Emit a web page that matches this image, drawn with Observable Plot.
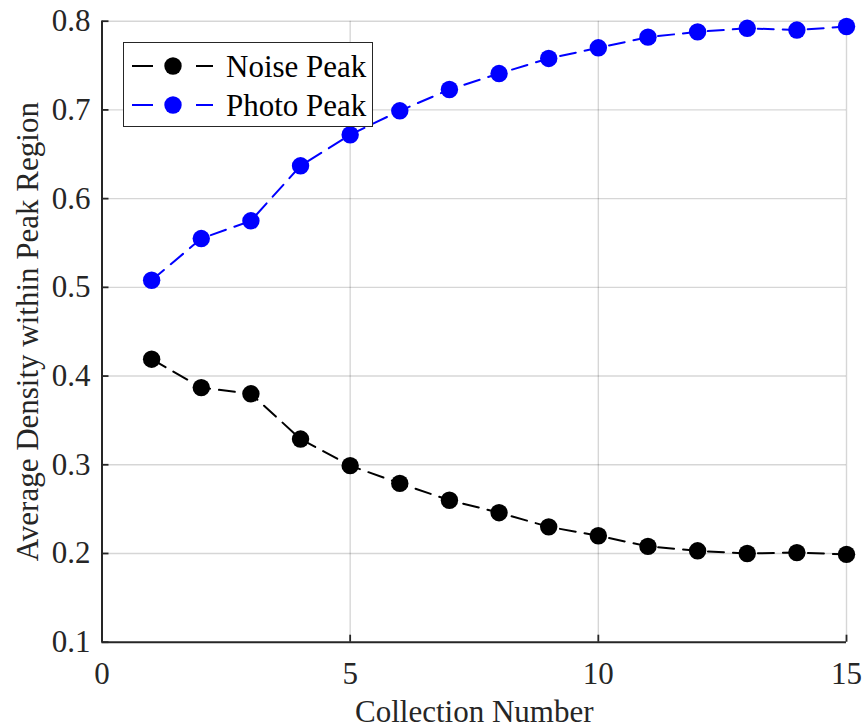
<!DOCTYPE html>
<html>
<head>
<meta charset="utf-8">
<script src="https://cdn.jsdelivr.net/npm/d3@7"></script>
<script src="https://cdn.jsdelivr.net/npm/@observablehq/plot@0.6"></script>
<style>
  html, body { margin: 0; padding: 0; background: #fff; }
  #wrap { position: relative; width: 862px; height: 728px; font-family: "Liberation Serif", "Times New Roman", serif; }
  #legend { position: absolute; left: 123px; top: 42px; width: 248px; height: 83px; background: #fff; border: 1.5px solid #262626; box-sizing: content-box; }
  #legend .row { position: absolute; left: 0; height: 40px; display: flex; align-items: center; }
  #legend .row span { font-size: 31px; color: #000; margin-left: 5px; line-height: 1; }
</style>
</head>
<body>
<div id="wrap"></div>
<script>
const collection = [1,2,3,4,5,6,7,8,9,10,11,12,13,14,15];
const noisePeak = [0.419,0.387,0.380,0.329,0.299,0.279,0.260,0.246,0.230,0.220,0.208,0.203,0.200,0.201,0.199];
const photoPeak = [0.508,0.555,0.575,0.637,0.672,0.699,0.723,0.741,0.758,0.770,0.782,0.788,0.792,0.790,0.794];
const seriesNames = ["Noise Peak", "Photo Peak"];
const seriesColors = ["#000000", "#0000ff"];
const xTicks = [0,5,10,15];
const yTicks = [0.1,0.2,0.3,0.4,0.5,0.6,0.7,0.8];

const rows = [];
collection.forEach((c,i) => {
  rows.push({series: seriesNames[0], x: c, y: noisePeak[i]});
  rows.push({series: seriesNames[1], x: c, y: photoPeak[i]});
});

const axisColor = "#262626";
const dash = "16,9";

const chart = Plot.plot({
  width: 862,
  height: 728,
  marginLeft: 101.5,
  marginRight: 16,
  marginTop: 20.7,
  marginBottom: 86.3,
  style: {fontFamily: "'Liberation Serif', 'Times New Roman', serif", fontSize: "31px", color: axisColor, background: "#fff", overflow: "visible"},
  x: {domain: [0, 15]},
  y: {domain: [0.1, 0.8]},
  color: {domain: seriesNames, range: seriesColors},
  marks: [
    Plot.gridX(xTicks.filter(d => d > 0), {stroke: "#000", strokeOpacity: 0.16, strokeWidth: 1.4}),
    Plot.gridY(yTicks.filter(d => d > 0.1), {stroke: "#000", strokeOpacity: 0.16, strokeWidth: 1.4}),
    Plot.axisX(xTicks, {tickSize: -7, tickPadding: 26.3, stroke: axisColor, strokeWidth: 1.8, fill: axisColor,
      label: "Collection Number", labelAnchor: "center", labelArrow: "none", labelOffset: 80}),
    Plot.axisY(yTicks, {tickSize: -7, tickPadding: 18.5, stroke: axisColor, strokeWidth: 1.8, fill: axisColor,
      tickFormat: d3.format(".1f"),
      label: "Average Density within Peak Region", labelAnchor: "center", labelArrow: "none", labelOffset: 86.5}),
    Plot.ruleX([0], {stroke: axisColor, strokeWidth: 2}),
    Plot.ruleY([0.1], {stroke: axisColor, strokeWidth: 2}),
    Plot.line(rows, {x: "x", y: "y", z: "series", stroke: "series", strokeWidth: 2, strokeDasharray: dash}),
    Plot.dot(rows, {x: "x", y: "y", fill: "series", r: 8.7, stroke: null})
  ]
});

const wrap = document.getElementById("wrap");
wrap.appendChild(chart);

// Legend (HTML overlay)
const legend = document.createElement("div");
legend.id = "legend";
seriesNames.forEach((name, i) => {
  const row = document.createElement("div");
  row.className = "row";
  row.style.top = (3 + i * 39) + "px";
  const col = seriesColors[i];
  row.innerHTML = `<svg width="90" height="40" style="margin-left:7px">
      <line x1="1" y1="20" x2="22" y2="20" stroke="${col}" stroke-width="2"/>
      <line x1="65" y1="20" x2="82" y2="20" stroke="${col}" stroke-width="2"/>
      <circle cx="42" cy="20" r="8.7" fill="${col}"/>
    </svg><span>${name}</span>`;
  legend.appendChild(row);
});
wrap.appendChild(legend);
</script>
</body>
</html>
